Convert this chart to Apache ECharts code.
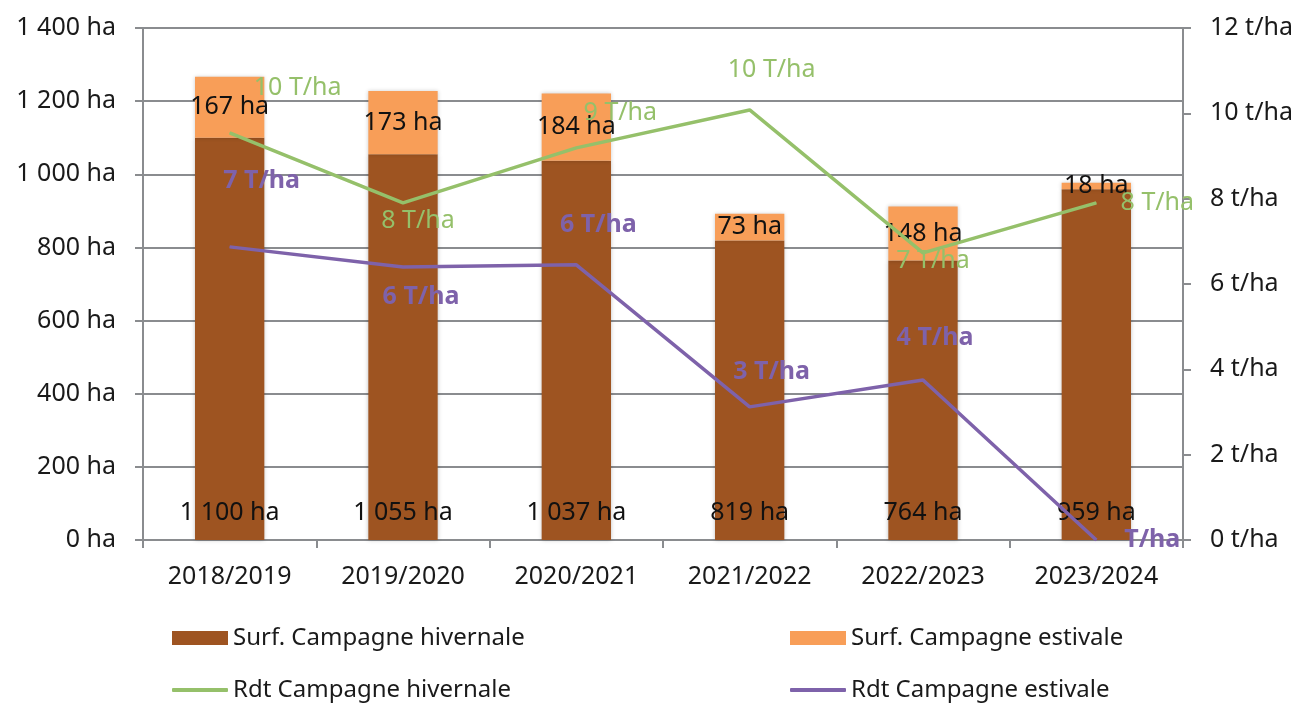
<!DOCTYPE html>
<html>
<head>
<meta charset="utf-8">
<script src="https://cdn.jsdelivr.net/npm/echarts@6/dist/echarts.min.js"></script>
<style>
  html, body { margin: 0; padding: 0; background: #fff; }
  #chart { width: 1298px; height: 704px; }
</style>
</head>
<body>
<div id="chart"></div>
<script>
// Data
const campaigns = ['2018/2019', '2019/2020', '2020/2021', '2021/2022', '2022/2023', '2023/2024'];
const surfHiver = [1100, 1055, 1037, 819, 764, 959];
const surfEte = [167, 173, 184, 73, 148, 18];
const rdtHiver = [9.54, 7.9, 9.19, 10.08, 6.73, 7.9];
const rdtEte = [6.87, 6.4, 6.45, 3.12, 3.75, 0];

// Label offsets (Excel-style manual placement)
const hiverOffsets = [[68, -45], [15, 18], [44, -35], [22, -40], [10, 8], [61, 0]];
const eteOffsets = [[32, -66], [18, 30], [22, -40], [22, -35], [12, -42], [56, 0]];

const FONT = '"Noto Sans", sans-serif';
const C_HIVER = '#9E5421';
const C_ETE = '#F89E58';
const C_GREEN = '#95C06A';
const C_PURPLE = '#7E62AA';
const AXIS_GREY = '#8A8C8F';

function spaced(v) {
    return String(v).replace(/\B(?=(\d{3})+(?!\d))/g, ' ');
}

function tha(v) {
    const r = Math.round(v);
    return (r === 0 ? '' : r + ' ') + 'T/ha';
}

function lineData(values, offsets) {
    return values.map((v, i) => ({
        value: v,
        label: { offset: offsets[i] }
    }));
}

const chart = echarts.init(document.getElementById('chart'));

const legendBase = {
    orient: 'horizontal',
    itemWidth: 56,
    itemGap: 4,
    padding: 0,
    textStyle: { fontFamily: FONT, fontSize: 24, color: '#1a1a1a' },
    selectedMode: false
};

const option = {
    animation: false,
    grid: { left: 143, right: 115, top: 28, bottom: 164, containLabel: false },
    legend: [
        Object.assign({}, legendBase, { left: 172, top: 626, itemHeight: 14, icon: 'rect', data: ['Surf. Campagne hivernale'] }),
        Object.assign({}, legendBase, { left: 790, top: 626, itemHeight: 14, icon: 'rect', data: ['Surf. Campagne estivale'] }),
        Object.assign({}, legendBase, { left: 172, top: 678, itemHeight: 4, icon: 'roundRect', data: ['Rdt Campagne hivernale'] }),
        Object.assign({}, legendBase, { left: 790, top: 678, itemHeight: 4, icon: 'roundRect', data: ['Rdt Campagne estivale'] })
    ],
    xAxis: {
        type: 'category',
        data: campaigns,
        boundaryGap: true,
        axisLine: { lineStyle: { color: AXIS_GREY, width: 2 } },
        axisTick: { show: true, length: 8, lineStyle: { color: AXIS_GREY, width: 2 } },
        axisLabel: { fontFamily: FONT, fontSize: 25, color: '#1a1a1a', margin: 24 }
    },
    yAxis: [
        {
            type: 'value',
            min: 0, max: 1400, interval: 200,
            axisLine: { show: true, lineStyle: { color: AXIS_GREY, width: 2 } },
            axisTick: { show: true, length: 8, lineStyle: { color: AXIS_GREY, width: 2 } },
            splitLine: { lineStyle: { color: AXIS_GREY, width: 2 } },
            axisLabel: {
                fontFamily: FONT, fontSize: 25, color: '#1a1a1a', margin: 27,
                formatter: v => spaced(v) + ' ha'
            }
        },
        {
            type: 'value',
            min: 0, max: 12, interval: 2,
            position: 'right',
            axisLine: { show: true, lineStyle: { color: AXIS_GREY, width: 2 } },
            axisTick: { show: true, length: 8, lineStyle: { color: AXIS_GREY, width: 2 } },
            splitLine: { show: false },
            axisLabel: {
                fontFamily: FONT, fontSize: 25, color: '#1a1a1a', margin: 27,
                formatter: v => v + ' t/ha'
            }
        }
    ],
    series: [
        {
            name: 'Surf. Campagne hivernale',
            type: 'bar',
            stack: 'surf',
            barWidth: '40%',
            data: surfHiver,
            itemStyle: { color: C_HIVER, shadowBlur: 4, shadowColor: 'rgba(0,0,0,0.25)' },
            label: {
                show: true,
                position: 'insideBottom',
                distance: 15,
                fontFamily: FONT, fontSize: 25, color: '#111',
                formatter: p => spaced(p.value) + ' ha'
            }
        },
        {
            name: 'Surf. Campagne estivale',
            type: 'bar',
            stack: 'surf',
            data: surfEte,
            itemStyle: { color: C_ETE, shadowBlur: 4, shadowColor: 'rgba(0,0,0,0.2)' },
            label: {
                show: true,
                position: 'inside',
                fontFamily: FONT, fontSize: 25, color: '#111',
                formatter: p => spaced(p.value) + ' ha'
            }
        },
        {
            name: 'Rdt Campagne hivernale',
            type: 'line',
            yAxisIndex: 1,
            data: lineData(rdtHiver, hiverOffsets),
            symbol: 'circle',
            symbolSize: 1,
            itemStyle: { color: C_GREEN },
            lineStyle: { color: C_GREEN, width: 3.5 },
            label: {
                show: true,
                position: 'inside',
                fontFamily: FONT, fontSize: 25, color: C_GREEN,
                formatter: p => tha(p.value)
            },
            z: 3
        },
        {
            name: 'Rdt Campagne estivale',
            type: 'line',
            yAxisIndex: 1,
            data: lineData(rdtEte, eteOffsets),
            symbol: 'circle',
            symbolSize: 1,
            itemStyle: { color: C_PURPLE },
            lineStyle: { color: C_PURPLE, width: 3.5 },
            label: {
                show: true,
                position: 'inside',
                fontFamily: FONT, fontSize: 25, fontWeight: 'bold', color: C_PURPLE,
                formatter: p => tha(p.value)
            },
            z: 3
        }
    ]
};

chart.setOption(option);
</script>
</body>
</html>
